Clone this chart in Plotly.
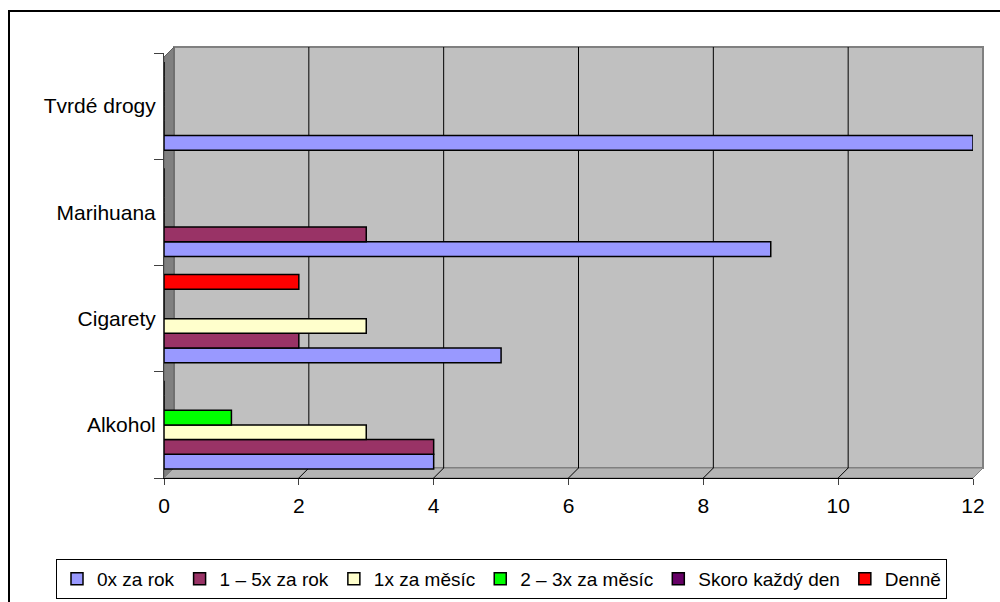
import plotly.graph_objects as go

categories = ["Alkohol", "Cigarety", "Marihuana", "Tvrdé drogy"]
series_names = ["0x za rok", "1 – 5x za rok", "1x za měsíc", "2 – 3x za měsíc", "Skoro každý den", "Denně"]
v_0x_za_rok = [4, 5, 9, 12]
v_1_5x_za_rok = [4, 2, 3, 0]
v_1x_za_mesic = [3, 3, 0, 0]
v_2_3x_za_mesic = [1, 0, 0, 0]
v_skoro_kazdy_den = [0, 0, 0, 0]
v_denne = [0, 2, 0, 0]
x_ticks = [0, 2, 4, 6, 8, 10, 12]

series_values = [v_0x_za_rok, v_1_5x_za_rok, v_1x_za_mesic, v_2_3x_za_mesic, v_skoro_kazdy_den, v_denne]
colors = ["#9999FF", "#993366", "#FFFFCC", "#00FF00", "#660066", "#FF0000"]

FONT = "Liberation Sans, Arial, sans-serif"
FS = 21
FS_LEG = 19

fig = go.Figure()
for name, vals, col in zip(series_names, series_values, colors):
    fig.add_trace(go.Bar(
        y=categories, x=vals, name=name, orientation="h",
        marker=dict(color=col, line=dict(color="black", width=1.5)),
    ))

# geometry of plot area in pixels
L, R, T, B = 164, 27, 53, 124
W = 1000 - L - R
H = 602 - T - B
DEPTH = 10  # 3D depth offset in px

def px(xp):
    return (xp - L) / W

def py(yp):
    return (602 - B - yp) / H

shapes = [
    # outer chart border
    dict(type="rect", xref="paper", yref="paper",
         x0=px(9), x1=px(1010), y0=py(612), y1=py(11),
         line=dict(color="black", width=2), fillcolor="rgba(0,0,0,0)", layer="below"),
    # back wall
    dict(type="rect", xref="paper", yref="paper",
         x0=px(L + DEPTH), x1=px(1000 - R + DEPTH), y0=py(602 - B - DEPTH), y1=py(T - 6),
         line=dict(color="#808080", width=2), fillcolor="#C0C0C0", layer="below"),
    # left wall
    dict(type="path", xref="paper", yref="paper",
         path=f"M {px(L)} {py(T + 4)} L {px(L + DEPTH)} {py(T - 6)} L {px(L + DEPTH)} {py(602 - B - DEPTH)} L {px(L)} {py(602 - B)} Z",
         line=dict(color="#606060", width=1), fillcolor="#808080", layer="below"),
    # floor
    dict(type="path", xref="paper", yref="paper",
         path=f"M {px(L)} {py(602 - B)} L {px(L + DEPTH)} {py(602 - B - DEPTH)} L {px(1000 - R + DEPTH)} {py(602 - B - DEPTH)} L {px(1000 - R)} {py(602 - B)} Z",
         line=dict(color="#808080", width=1), fillcolor="#B4B4B4", layer="below"),
]
# gridlines on back wall and floor, anchored at tick values
for t in x_ticks[1:-1]:
    shapes.append(dict(type="line", xref="x", yref="paper", xsizemode="pixel", xanchor=t,
                       x0=DEPTH, x1=DEPTH, y0=py(602 - B - DEPTH), y1=py(T - 6),
                       line=dict(color="black", width=1), layer="below"))
    shapes.append(dict(type="line", xref="x", yref="paper", xsizemode="pixel", xanchor=t,
                       x0=0, x1=DEPTH, y0=py(602 - B), y1=py(602 - B - DEPTH),
                       line=dict(color="black", width=1), layer="below"))

fig.update_layout(
    width=1000, height=602,
    margin=dict(l=L, r=R, t=T, b=B, autoexpand=False),
    paper_bgcolor="white",
    plot_bgcolor="rgba(0,0,0,0)",
    barmode="group",
    bargap=0.17,
    bargroupgap=0,
    font=dict(family=FONT, size=FS, color="black"),
    showlegend=True,
    legend=dict(
        orientation="h",
        x=px(56), xanchor="left",
        y=py(559), yanchor="top",
        bordercolor="black", borderwidth=1,
        bgcolor="white",
        font=dict(family=FONT, size=FS_LEG, color="black"),
        traceorder="normal",
        itemwidth=30,
    ),
    xaxis=dict(
        range=[0, 12], tickvals=x_ticks, ticktext=[str(t) for t in x_ticks],
        showgrid=False,
        zeroline=False, showline=True, linecolor="black", linewidth=1,
        ticks="outside", ticklen=6, tickcolor="#404040",
        tickfont=dict(family=FONT, size=FS, color="black"),
        ticklabelstandoff=3,
        fixedrange=True,
    ),
    yaxis=dict(
        categoryorder="array", categoryarray=categories,
        showgrid=False, zeroline=False,
        showline=True, linecolor="#404040", linewidth=1,
        ticks="outside", tickson="boundaries", ticklen=9, tickcolor="#404040",
        tickfont=dict(family=FONT, size=FS, color="black"),
        ticklabelstandoff=3,
        fixedrange=True,
    ),
    shapes=shapes,
)

fig.write_html("out.html", config={"displayModeBar": False},
               post_script="document.body.style.margin='0';")
